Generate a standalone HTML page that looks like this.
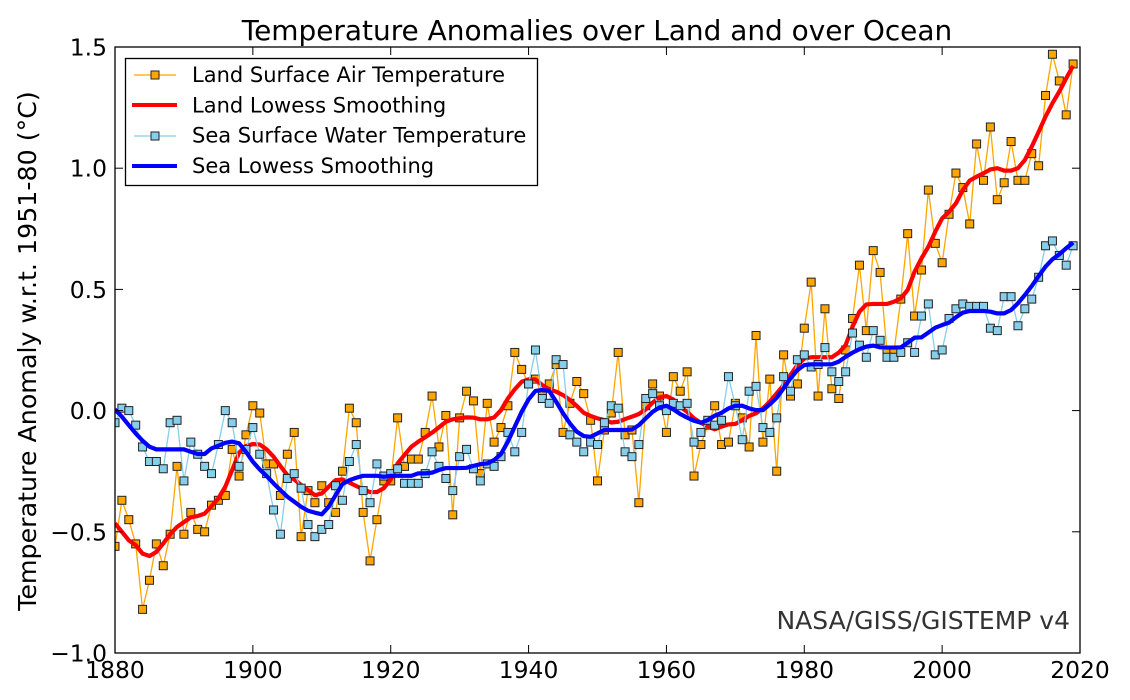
<!DOCTYPE html>
<html lang="en">
<head>
<meta charset="utf-8">
<title>Temperature Anomalies over Land and over Ocean</title>
<style>
html,body{margin:0;padding:0;background:#fff;}
svg{display:block;font-family:"DejaVu Sans","Liberation Sans",sans-serif;}
</style>
</head>
<body>
<svg id="chart" xmlns="http://www.w3.org/2000/svg" width="1130" height="700" viewBox="0 0 1130 700">
  <defs><clipPath id="plot-clip"><rect x="115" y="47" width="965" height="606"/></clipPath></defs>
  <rect x="0" y="0" width="1130" height="700" fill="#fff"/>
  <text x="597" y="40" font-size="27.95" text-anchor="middle" fill="#000">Temperature Anomalies over Land and over Ocean</text>
  <text transform="translate(36,351) rotate(-90)" font-size="25.3" text-anchor="middle" fill="#000">Temperature Anomaly w.r.t. 1951-80 (°C)</text>
  <g id="series" clip-path="url(#plot-clip)"></g>
  <g id="axes"></g>
  <rect x="115" y="47" width="965" height="606" fill="none" stroke="#000" stroke-width="1.3"/>
  <text x="1070" y="629" font-size="25" text-anchor="end" fill="#333">NASA/GISS/GISTEMP v4</text>
  <g>
    <rect x="125.5" y="58.5" width="412" height="127" fill="#fff" stroke="#000" stroke-width="1.3"/>
    <g>
      <line x1="134" y1="75" x2="176" y2="75" stroke="orange" stroke-width="1.2"/>
      <rect x="151" y="71" width="8" height="8" fill="orange" stroke="#222" stroke-width="1"/>
      <text x="192" y="82" font-size="21" fill="#000">Land Surface Air Temperature</text>
    </g>
    <g>
      <line x1="132" y1="105" x2="177" y2="105" stroke="#f00" stroke-width="4"/>
      <text x="192" y="112.5" font-size="21" fill="#000">Land Lowess Smoothing</text>
    </g>
    <g>
      <line x1="134" y1="136" x2="176" y2="136" stroke="skyblue" stroke-width="1.2"/>
      <rect x="151" y="132" width="8" height="8" fill="skyblue" stroke="#222" stroke-width="1"/>
      <text x="192" y="142.5" font-size="21" fill="#000">Sea Surface Water Temperature</text>
    </g>
    <g>
      <line x1="132" y1="166" x2="177" y2="166" stroke="#00f" stroke-width="4"/>
      <text x="192" y="173" font-size="21" fill="#000">Sea Lowess Smoothing</text>
    </g>
  </g>
</svg>
<script>
const startYear = 1880;
const xTickLabels = [1880, 1900, 1920, 1940, 1960, 1980, 2000, 2020];
const yTickLabels = [-1.0, -0.5, 0.0, 0.5, 1.0, 1.5];
const landValues = [
-0.56,-0.37,-0.45,-0.55,-0.82,-0.70,-0.55,-0.64,-0.51,-0.23,
-0.51,-0.42,-0.49,-0.50,-0.39,-0.37,-0.35,-0.16,-0.27,-0.10,
0.02,-0.01,-0.22,-0.22,-0.35,-0.18,-0.09,-0.52,-0.33,-0.38,
-0.31,-0.38,-0.42,-0.25,0.01,-0.05,-0.42,-0.62,-0.45,-0.29,
-0.29,-0.03,-0.23,-0.20,-0.20,-0.09,0.06,-0.15,-0.02,-0.43,
-0.03,0.08,0.04,-0.26,0.03,-0.13,-0.07,0.02,0.24,0.17,
0.11,0.13,0.06,0.11,0.19,-0.09,0.03,0.12,0.07,-0.04,
-0.29,-0.08,-0.01,0.24,-0.10,-0.08,-0.38,0.02,0.11,0.06,
-0.09,0.14,0.08,0.16,-0.27,-0.14,-0.06,0.02,-0.14,-0.13,
0.03,-0.03,-0.15,0.31,-0.13,0.13,-0.25,0.23,0.06,0.11,
0.34,0.53,0.06,0.42,0.09,0.05,0.25,0.38,0.60,0.33,
0.66,0.57,0.24,0.24,0.46,0.73,0.39,0.58,0.91,0.69,
0.61,0.81,0.98,0.92,0.77,1.10,0.95,1.17,0.87,0.94,
1.11,0.95,0.95,1.06,1.01,1.30,1.47,1.36,1.22,1.43];
const landLowess = [
-0.465,-0.50,-0.535,-0.555,-0.59,-0.60,-0.583,-0.548,-0.51,-0.48,
-0.46,-0.44,-0.435,-0.425,-0.394,-0.362,-0.314,-0.245,-0.174,-0.146,
-0.138,-0.14,-0.16,-0.19,-0.229,-0.266,-0.284,-0.307,-0.328,-0.349,
-0.342,-0.314,-0.287,-0.284,-0.297,-0.311,-0.325,-0.336,-0.336,-0.32,
-0.284,-0.218,-0.183,-0.149,-0.128,-0.11,-0.091,-0.069,-0.046,-0.036,
-0.032,-0.028,-0.029,-0.036,-0.036,-0.028,0.002,0.05,0.088,0.119,
0.129,0.129,0.105,0.088,0.078,0.064,0.044,0.019,-0.009,-0.022,
-0.032,-0.039,-0.049,-0.046,-0.035,-0.025,-0.014,0.005,0.033,0.055,
0.06,0.046,0.016,-0.005,-0.032,-0.05,-0.066,-0.077,-0.066,-0.057,
-0.055,-0.039,-0.022,-0.011,0.009,0.037,0.071,0.105,0.147,0.188,
0.215,0.22,0.22,0.22,0.22,0.239,0.27,0.346,0.408,0.438,
0.44,0.44,0.44,0.449,0.463,0.498,0.573,0.628,0.676,0.738,
0.793,0.82,0.855,0.91,0.949,0.965,0.979,0.995,1.0,0.99,
0.99,1.0,1.034,1.089,1.15,1.213,1.268,1.316,1.371,1.422];
const seaValues = [
-0.05,0.01,0.00,-0.06,-0.15,-0.21,-0.21,-0.24,-0.05,-0.04,
-0.29,-0.13,-0.18,-0.23,-0.26,-0.14,0.00,-0.05,-0.23,-0.16,
-0.07,-0.18,-0.26,-0.41,-0.51,-0.28,-0.26,-0.32,-0.47,-0.52,
-0.49,-0.47,-0.31,-0.37,-0.21,-0.14,-0.33,-0.38,-0.22,-0.27,
-0.26,-0.24,-0.30,-0.30,-0.30,-0.26,-0.17,-0.23,-0.28,-0.33,
-0.19,-0.16,-0.24,-0.29,-0.22,-0.23,-0.19,-0.09,-0.17,-0.09,
0.11,0.25,0.05,0.03,0.21,0.19,-0.10,-0.13,-0.17,-0.13,
-0.14,-0.05,0.02,0.01,-0.17,-0.19,-0.14,0.05,0.07,0.02,
0.00,0.03,0.02,0.03,-0.13,-0.09,-0.04,-0.06,-0.04,0.14,
0.02,-0.12,0.08,0.10,-0.07,-0.09,-0.03,0.14,0.08,0.21,
0.23,0.18,0.19,0.26,0.16,0.12,0.16,0.32,0.27,0.22,
0.33,0.29,0.22,0.22,0.24,0.28,0.24,0.39,0.44,0.23,
0.25,0.38,0.42,0.44,0.43,0.43,0.43,0.34,0.33,0.47,
0.47,0.35,0.42,0.46,0.55,0.68,0.70,0.64,0.60,0.68];
const seaLowess = [
0.005,-0.025,-0.06,-0.094,-0.124,-0.149,-0.16,-0.16,-0.16,-0.16,
-0.16,-0.17,-0.179,-0.179,-0.156,-0.145,-0.133,-0.128,-0.135,-0.17,
-0.211,-0.243,-0.27,-0.30,-0.328,-0.355,-0.376,-0.397,-0.413,-0.421,
-0.428,-0.397,-0.349,-0.303,-0.287,-0.277,-0.269,-0.269,-0.269,-0.273,
-0.269,-0.269,-0.269,-0.269,-0.259,-0.259,-0.256,-0.245,-0.237,-0.237,
-0.237,-0.236,-0.228,-0.221,-0.218,-0.204,-0.179,-0.128,-0.066,-0.005,
0.046,0.081,0.085,0.081,0.037,-0.011,-0.053,-0.087,-0.105,-0.108,
-0.094,-0.08,-0.08,-0.08,-0.08,-0.078,-0.06,-0.032,-0.005,0.013,
0.02,0.005,-0.014,-0.029,-0.042,-0.05,-0.039,-0.021,-0.009,0.009,
0.02,0.02,0.009,0.002,0.002,0.026,0.053,0.092,0.133,0.167,
0.188,0.191,0.191,0.191,0.191,0.202,0.222,0.239,0.253,0.264,
0.268,0.261,0.26,0.26,0.261,0.28,0.301,0.302,0.322,0.342,
0.353,0.363,0.385,0.404,0.411,0.411,0.411,0.408,0.401,0.401,
0.415,0.443,0.477,0.514,0.555,0.594,0.624,0.645,0.67,0.693];

const NS = 'http://www.w3.org/2000/svg';
const plot = { left: 115, right: 1080, top: 47, bottom: 653, xMin: 1880, xMax: 2020, yMin: -1, yMax: 1.5 };
function xScale(year) { return plot.left + (year - plot.xMin) / (plot.xMax - plot.xMin) * (plot.right - plot.left); }
function yScale(v) { return plot.bottom - (v - plot.yMin) / (plot.yMax - plot.yMin) * (plot.bottom - plot.top); }
function make(tag, attrs, parent) {
  const el = document.createElementNS(NS, tag);
  for (const k in attrs) el.setAttribute(k, attrs[k]);
  parent.appendChild(el);
  return el;
}
function pathFor(values) {
  return values.map(function (v, i) {
    return (i ? 'L' : 'M') + xScale(startYear + i).toFixed(2) + ' ' + yScale(v).toFixed(2);
  }).join(' ');
}
const seriesGroup = document.getElementById('series');
const axesGroup = document.getElementById('axes');

function drawObserved(values, color, label) {
  const g = make('g', {}, seriesGroup);
  
  
  const line = make('path', { d: pathFor(values), fill: 'none', stroke: color, 'stroke-width': 1.3 }, g);
  
  
  values.forEach(function (v, i) {
    const year = startYear + i;
    const m = make('rect', { x: (xScale(year) - 4).toFixed(2), y: (yScale(v) - 4).toFixed(2), width: 8, height: 8, fill: color, stroke: '#222', 'stroke-width': 1 }, g);
    
    
  });
}
function drawSmooth(values, color, label) {
  const line = make('path', { d: pathFor(values), fill: 'none', stroke: color, 'stroke-width': 4.2, 'stroke-linejoin': 'round' }, seriesGroup);
  
  
}
drawObserved(landValues, 'orange', 'land-surface');
drawSmooth(landLowess, '#f00', 'land-lowess-line');
drawObserved(seaValues, 'skyblue', 'sea-surface');
drawSmooth(seaLowess, '#00f', 'sea-lowess-line');

xTickLabels.forEach(function (year) {
  const x = xScale(year);
  const t1 = make('line', { x1: x, x2: x, y1: plot.bottom, y2: plot.bottom - 8, stroke: '#000', 'stroke-width': 1 }, axesGroup);
  
  
  const t2 = make('line', { x1: x, x2: x, y1: plot.top, y2: plot.top + 8, stroke: '#000', 'stroke-width': 1 }, axesGroup);
  
  
  const label = make('text', { x: x, y: 678, 'font-size': 23.4, 'text-anchor': 'middle', fill: '#000' }, axesGroup);
  label.textContent = String(year);
  
  
});
yTickLabels.forEach(function (v) {
  const y = yScale(v);
  const t1 = make('line', { x1: plot.left, x2: plot.left + 8, y1: y, y2: y, stroke: '#000', 'stroke-width': 1 }, axesGroup);
  
  
  const t2 = make('line', { x1: plot.right, x2: plot.right - 8, y1: y, y2: y, stroke: '#000', 'stroke-width': 1 }, axesGroup);
  
  
  const label = make('text', { x: 107, y: y + 8.5, 'font-size': 23.4, 'text-anchor': 'end', fill: '#000' }, axesGroup);
  label.textContent = v.toFixed(1).replace('-', '\u2212');
  
  
});
</script>
</body>
</html>
